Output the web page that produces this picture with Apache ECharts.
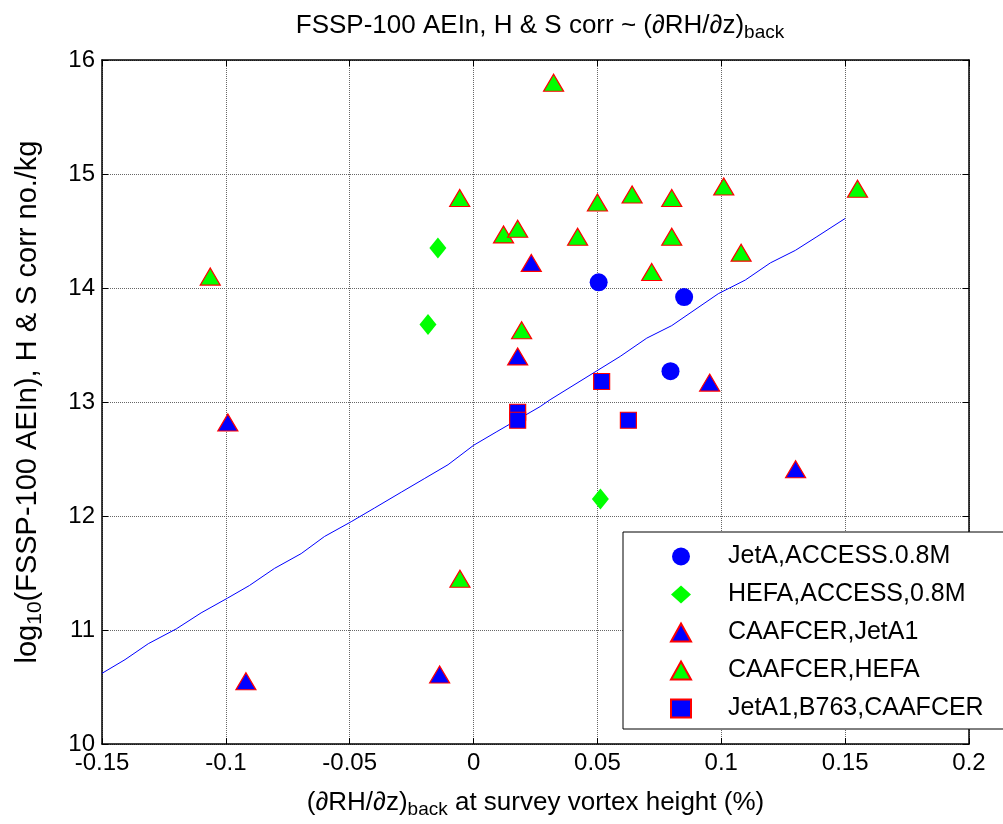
<!DOCTYPE html>
<html>
<head>
<meta charset="utf-8">
<script src="https://cdn.jsdelivr.net/npm/echarts@6/dist/echarts.min.js"></script>
<style>
  html, body { margin: 0; padding: 0; background: #fff; }
  #chart { width: 1003px; height: 824px; }
</style>
</head>
<body>
<div id="chart"></div>
<script>
// 数据
const xTicks = [-0.15, 0.2, 0.05]   // min, max, step
const yTicks = [10, 16, 1]

const jetAAccess = [[0.0505, 14.05], [0.085, 13.92], [0.0795, 13.27]]
const hefaAccess = [[-0.0144, 14.35], [-0.0184, 13.68], [0.0512, 12.15]]
const caafcerJetA1 = [[0.0233, 14.22], [0.0178, 13.40], [0.0953, 13.17], [-0.0992, 12.82],
  [-0.0919, 10.55], [-0.0137, 10.61], [0.130, 12.41]]
const caafcerHefa = [[-0.1063, 14.10], [-0.0056, 14.79], [0.0121, 14.47], [0.0178, 14.52],
  [0.0194, 13.63], [0.0323, 15.80], [0.050, 14.75], [0.064, 14.82], [0.080, 14.79],
  [0.101, 14.89], [0.155, 14.87], [0.042, 14.45], [0.080, 14.45], [0.108, 14.31],
  [0.0719, 14.14], [-0.0055, 11.45]]
const b763 = [[0.0178, 12.91], [0.0178, 12.84], [0.0517, 13.18], [0.0625, 12.84]]

// 拟合线
const fitX = [-0.15, -0.1407, -0.1313, -0.12, -0.11, -0.0993, -0.0905, -0.0804, -0.0696,
  -0.0602, -0.0494, -0.0400, -0.0291, -0.0197, -0.0103, 0, 0.0094, 0.0269, 0.0309,
  0.0592, 0.0699, 0.0800, 0.0988, 0.1097, 0.1198, 0.1299, 0.1386, 0.15]
const fitY = [10.62, 10.74, 10.88, 11.01, 11.15, 11.28, 11.39, 11.54, 11.67, 11.82,
  11.95, 12.07, 12.21, 12.33, 12.45, 12.62, 12.74, 12.96, 13.02, 13.40, 13.56, 13.67,
  13.95, 14.07, 14.22, 14.33, 14.45, 14.61]

const FONT = 'Liberation Sans, Arial, Helvetica, sans-serif'

const chart = echarts.init(document.getElementById('chart'))

function boxAxis(pos, showLabel) {
  return {
    axisLine: { show: true, onZero: false, lineStyle: { color: '#000', width: 1.5 } },
    axisTick: { show: true, inside: true, length: 6, lineStyle: { color: '#000', width: 1 } },
    axisLabel: { show: showLabel, color: '#000', fontSize: 24, fontFamily: FONT, margin: 7 },
    position: pos
  }
}

const redEdge = { borderColor: '#ff0000', borderWidth: 1.2, opacity: 1 }

chart.setOption({
  animation: false,
  backgroundColor: '#fff',
  title: {
    text: '{t|FSSP-100 AEIn, H & S corr ~ (∂RH/∂z)}{s|back}',
    left: 535,
    top: 4,
    textAlign: 'center',
    textStyle: {
      fontWeight: 'normal',
      rich: {
        t: { fontSize: 26, fontFamily: FONT, color: '#000', fontWeight: 'normal' },
        s: { fontSize: 19, fontFamily: FONT, color: '#000', fontWeight: 'normal', padding: [14, 0, 0, 0] }
      }
    }
  },
  grid: { left: 102, right: 34, top: 60, bottom: 80, containLabel: false, outerBoundsMode: 'none' },
  legend: {
    orient: 'vertical',
    left: 623,
    top: 532,
    padding: [12, 20, 8, 47],
    itemWidth: 20,
    itemHeight: 18,
    itemGap: 13,
    backgroundColor: '#fff',
    borderColor: '#000',
    borderWidth: 1,
    textStyle: { fontSize: 25, fontFamily: FONT, color: '#000', padding: [0, 0, 0, 32] },
    data: ['JetA,ACCESS.0.8M', 'HEFA,ACCESS,0.8M', 'CAAFCER,JetA1', 'CAAFCER,HEFA', 'JetA1,B763,CAAFCER']
  },
  xAxis: [
    Object.assign(boxAxis('bottom', true), {
      type: 'value', min: xTicks[0], max: xTicks[1], interval: xTicks[2],
      splitLine: { show: true, lineStyle: { color: '#666', type: 'dotted', width: 1 } },
      name: '{t|(∂RH/∂z)}{s|back}{t| at survey vortex height (%)}',
      nameLocation: 'middle',
      nameGap: 42,
      nameTextStyle: {
        rich: {
          t: { fontSize: 26, fontFamily: FONT, color: '#000' },
          s: { fontSize: 19, fontFamily: FONT, color: '#000', padding: [14, 0, 0, 0] }
        }
      }
    }),
    Object.assign(boxAxis('top', false), {
      type: 'value', min: xTicks[0], max: xTicks[1], interval: xTicks[2],
      splitLine: { show: false }
    })
  ],
  yAxis: [
    Object.assign(boxAxis('left', true), {
      type: 'value', min: yTicks[0], max: yTicks[1], interval: yTicks[2],
      splitLine: { show: true, lineStyle: { color: '#666', type: 'dotted', width: 1 } },
      name: '{t|log}{s|10}{t|(FSSP-100 AEIn), H & S corr no./kg}',
      nameLocation: 'middle',
      nameRotate: 90,
      nameGap: 56,
      nameTextStyle: {
        rich: {
          t: { fontSize: 29, fontFamily: FONT, color: '#000' },
          s: { fontSize: 21, fontFamily: FONT, color: '#000', padding: [16, 0, 0, 0] }
        }
      }
    }),
    Object.assign(boxAxis('right', false), {
      type: 'value', min: yTicks[0], max: yTicks[1], interval: yTicks[2],
      splitLine: { show: false }
    })
  ],
  series: [
    {
      name: 'fit',
      type: 'line',
      data: fitX.map((x, i) => [x, fitY[i]]),
      showSymbol: false,
      symbol: 'none',
      lineStyle: { color: '#0000ff', width: 1 },
      z: 1,
      silent: true
    },
    {
      name: 'JetA,ACCESS.0.8M',
      type: 'scatter',
      data: jetAAccess,
      symbol: 'circle',
      symbolSize: 18,
      itemStyle: { color: '#0000ff', borderWidth: 0, opacity: 1 },
      z: 2
    },
    {
      name: 'HEFA,ACCESS,0.8M',
      type: 'scatter',
      data: hefaAccess,
      symbol: 'diamond',
      symbolSize: [17, 21],
      itemStyle: { color: '#00ff00', borderWidth: 0, opacity: 1 },
      z: 2
    },
    {
      name: 'CAAFCER,JetA1',
      type: 'scatter',
      data: caafcerJetA1,
      symbol: 'triangle',
      symbolSize: [20, 17],
      itemStyle: Object.assign({ color: '#0000ff' }, redEdge),
      z: 2
    },
    {
      name: 'CAAFCER,HEFA',
      type: 'scatter',
      data: caafcerHefa,
      symbol: 'triangle',
      symbolSize: [20, 17],
      itemStyle: Object.assign({ color: '#00ff00' }, redEdge),
      z: 2
    },
    {
      name: 'JetA1,B763,CAAFCER',
      type: 'scatter',
      data: b763,
      symbol: 'rect',
      symbolSize: 16,
      itemStyle: Object.assign({ color: '#0000ff' }, redEdge),
      z: 2
    }
  ]
})
</script>
</body>
</html>
